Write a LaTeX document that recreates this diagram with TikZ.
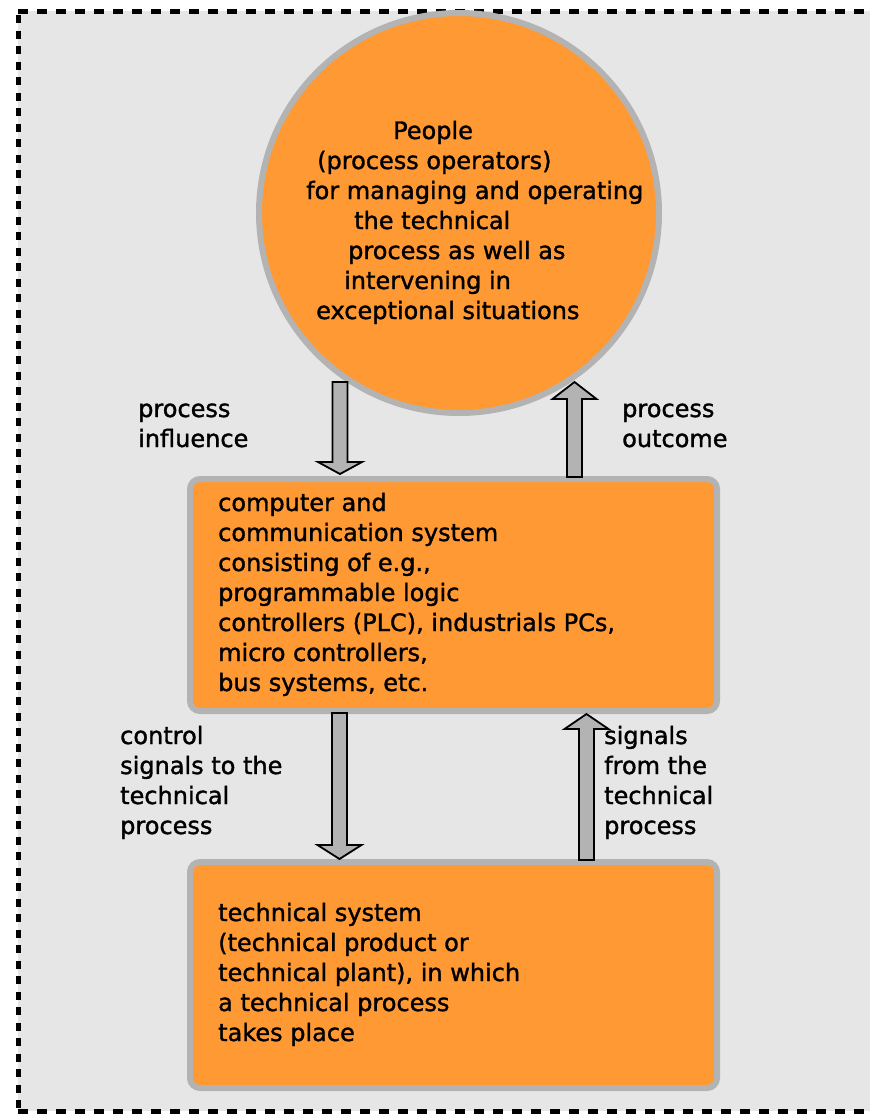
\documentclass[tikz,border=0pt]{standalone}
\usepackage{fontspec}
\setmainfont{DejaVu Sans}[FakeBold=1.4]
\usetikzlibrary{calc}

\definecolor{panelgray}{HTML}{E6E6E6}
\definecolor{rimgray}{HTML}{B3B3B3}
\definecolor{procorange}{HTML}{FF9933}

% multi-line texts: the base west anchor sits on the baseline of the last line
\tikzset{
  labeltext/.style={anchor=base west, inner sep=0pt, align=left,
    font=\fontsize{24}{30}\selectfont},
  orangebox/.style={draw=rimgray, line width=6pt, fill=procorange,
    rounded corners=10pt, inner sep=0pt},
  orangedisc/.style={circle, draw=rimgray, line width=6pt, fill=procorange,
    inner sep=0pt, minimum size=400pt},
  blockarrow/.style={fill=rimgray, draw=black, line width=1.8pt, line join=miter},
  framedash/.style={line width=5pt, black}
}

% thick block arrow from #1 (tail) to #2 (tip), vertical; #3 = head length
\newcommand\blockarrow[3]{%
  \path[blockarrow] let \p1=(#1), \p2=(#2),
      \n1={ifthenelse(\y2>\y1,1,-1)} in
    ({\x1-7.5pt},\y1) -- ({\x1-7.5pt},{\y2-(\n1)*#3})
    -- ({\x1-22pt},{\y2-(\n1)*#3}) -- (\x2,\y2)
    -- ({\x1+22pt},{\y2-(\n1)*#3}) -- ({\x1+7.5pt},{\y2-(\n1)*#3})
    -- ({\x1+7.5pt},\y1) -- cycle;}

\begin{document}
\begin{tikzpicture}[x=1pt, y=-1pt]
  \useasboundingbox (0,0) rectangle (870,1114);
  \clip (0,0) rectangle (870,1114);

  % panel with dashed frame
  \fill[panelgray] (18,11) rectangle (900,1111);
  \draw[framedash, dash pattern=on 10pt off 9pt] (18,11) -- (900,11);
  \draw[framedash, dash pattern=on 10pt off 9pt] (18,1111) -- (900,1111);
  \draw[framedash, dash pattern=on 8pt off 7.5pt] (18,15) -- (18,1111);

  % shapes
  \node[orangedisc] (people) at (459,213) {};
  \node[orangebox, minimum width=527pt, minimum height=232pt] (ctrl) at (453.5,595) {};
  \node[orangebox, minimum width=527pt, minimum height=226pt] (plant) at (453.5,975) {};

  % texts
  \node[labeltext] (peopletext) at (306,319) {%
    \hspace*{87pt}People\\
    \hspace*{11pt}(process operators)\\
    for managing and operating\\
    \hspace*{48pt}the technical\\
    \hspace*{42pt}process as well as\\
    \hspace*{38pt}intervening in\\
    \hspace*{10pt}exceptional situations};
  \node[labeltext] (ctrltext) at (218,691) {%
    computer and\\
    communication system\\
    consisting of e.g.,\\
    programmable logic\\
    controllers (PLC), industrials PCs,\\
    micro controllers,\\
    bus systems, etc.};
  \node[labeltext] (planttext) at (218,1041) {%
    technical system\\
    (technical product or\\
    technical plant), in which\\
    a technical process\\
    takes place};
  \node[labeltext] (influence) at (138,447) {process\\influence};
  \node[labeltext] (outcome) at (622,447) {process\\outcome};
  \node[labeltext] (ctrlsig) at (120,834) {control\\signals to the\\technical\\process};
  \node[labeltext] (plantsig) at (604,834) {signals\\from the\\technical\\process};

  % arrow ends
  \coordinate (inflTail) at (340,382);
  \coordinate (inflTip) at (340,474);
  \coordinate (outTail) at (574.5,477);
  \coordinate (outTip) at (574.5,382);
  \coordinate (csTail) at (339.5,713);
  \coordinate (csTip) at (339.5,859);
  \coordinate (sgTail) at (586.5,860);
  \coordinate (sgTip) at (586.5,714);

  \blockarrow{inflTail}{inflTip}{12pt}
  \blockarrow{outTail}{outTip}{17pt}
  \blockarrow{csTail}{csTip}{14pt}
  \blockarrow{sgTail}{sgTip}{15pt}
\end{tikzpicture}
\end{document}
